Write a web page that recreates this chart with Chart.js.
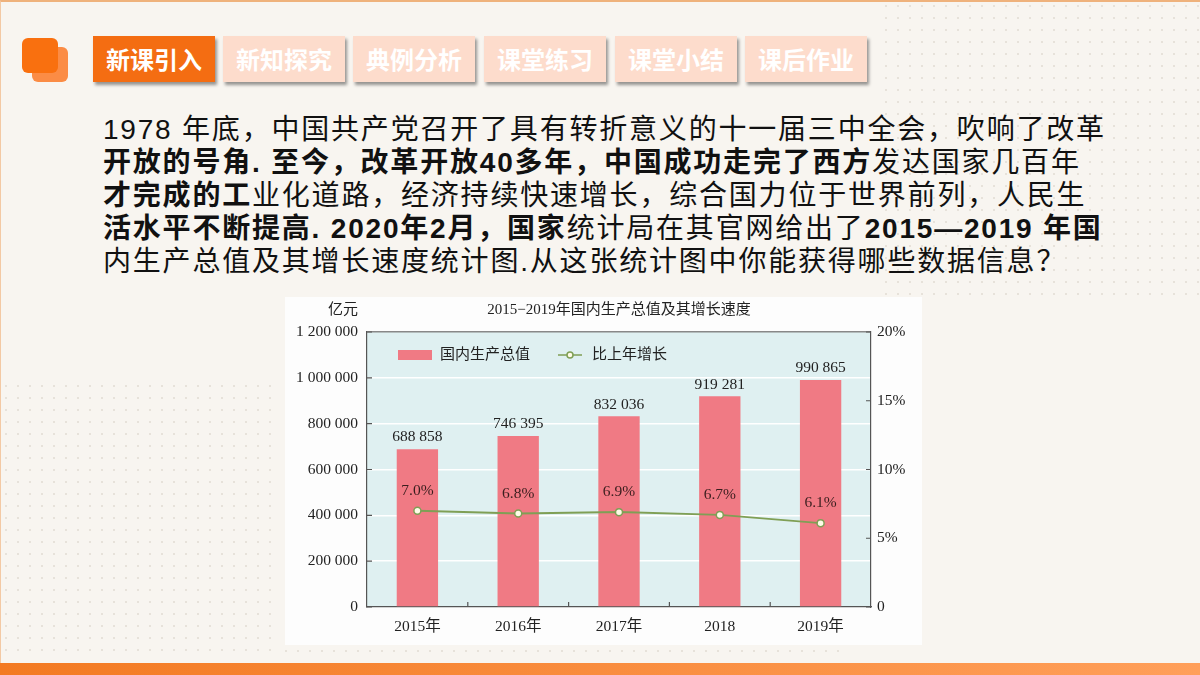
<!DOCTYPE html>
<html lang="zh-CN">
<head>
<meta charset="utf-8">
<title>2015-2019年国内生产总值及其增长速度</title>
<script src="https://cdn.jsdelivr.net/npm/chart.js@4.4.1/dist/chart.umd.min.js"></script>
<style>
  html, body { margin: 0; padding: 0; }
  body {
    width: 1200px; height: 675px; position: relative; overflow: hidden;
    background: #f8f5f0;
    font-family: "Liberation Sans", "Noto Sans CJK SC", sans-serif;
  }
  .frame { position: absolute; left: 0; top: 0; width: 1199px; height: 662px;
    border-top: 2px solid #efb27c; border-left: 1px solid #f3c9a4; }
  .dots { position: absolute; opacity: .55;
    background-image: radial-gradient(#d9d2c8 1px, transparent 1.3px);
    background-size: 12px 12px; }
  .bottom-bar { position: absolute; left: 0; top: 663px; width: 1200px; height: 12px;
    background: linear-gradient(to right, #f37a22, #ff9f5a); }
  .icon { position: absolute; width: 36px; height: 35px; border-radius: 6px; }
  .tab { position: absolute; top: 36px; width: 122px; height: 46px; line-height: 46px;
    text-align: center; font-size: 24px; font-weight: bold; color: #fff;
    font-family: "Noto Sans CJK SC", sans-serif;
    background: #fddccc; box-shadow: 2px 3px 3px rgba(0,0,0,.4); }
  .tab.on { background: #f46d12; }
  .text { position: absolute; left: 103px; top: 113px; font-size: 28px; line-height: 33px;
    letter-spacing: 1.8px; color: #111; white-space: nowrap; }
  .text b { font-weight: bold; }
  .chart-box { position: absolute; left: 285px; top: 297px; width: 637px; height: 348px;
    background: #fdfdfd; }
</style>
</head>
<body>
<div class="frame"></div>
<div class="dots" style="left:880px;top:0;width:320px;height:300px;"></div>
<div class="dots" style="left:0;top:380px;width:280px;height:280px;"></div>
<div class="dots" style="left:280px;top:645px;width:560px;height:16px;"></div>
<div class="bottom-bar"></div>

<div class="icon" style="left:32px;top:47px;background:#fb8c45;"></div>
<div class="icon" style="left:22px;top:38px;background:#f9700f;"></div>

<div class="tab on" style="left:93px;">新课引入</div>
<div class="tab" style="left:223px;">新知探究</div>
<div class="tab" style="left:353px;">典例分析</div>
<div class="tab" style="left:484px;">课堂练习</div>
<div class="tab" style="left:615px;">课堂小结</div>
<div class="tab" style="left:745px;">课后作业</div>

<div class="text">
  <div>1978 年底，中国共产党召开了具有转折意义的十一届三中全会，吹响了改革</div>
  <div><b>开放的号角. 至今，改革开放40多年，中国成功走完了西方</b>发达国家几百年</div>
  <div><b>才完成的工</b>业化道路，经济持续快速增长，综合国力位于世界前列，人民生</div>
  <div><b>活水平不断提高. 2020年2月，国家</b>统计局在其官网给出了<b>2015—2019 年国</b></div>
  <div>内生产总值及其增长速度统计图.从这张统计图中你能获得哪些数据信息？</div>
</div>

<div class="chart-box"><canvas id="gdpChart"></canvas></div>

<script>
// 数据
const years = ["2015年", "2016年", "2017年", "2018", "2019年"];
const gdp = [688858, 746395, 832036, 919281, 990865];      // 亿元
const growth = [7.0, 6.8, 6.9, 6.7, 6.1];                   // %
const chartTitle = "2015−2019年国内生产总值及其增长速度";
const unitLabel = "亿元";

const serif = "'Liberation Serif', 'Noto Sans CJK SC', serif";
const barColor = "#f07a84";
const lineColor = "#7f9f55";
const axisColor = "#555";

// 1 200 000 形式
function spaced(n) {
  return String(n).replace(/\B(?=(\d{3})+(?!\d))/g, " ");
}

// plot background, title, unit, legend, inward ticks, value labels
const decor = {
  id: "decor",
  beforeDraw(chart) {
    const { ctx, chartArea: a } = chart;
    ctx.save();
    ctx.fillStyle = "#dff0f1";
    ctx.fillRect(a.left, a.top, a.right - a.left, a.bottom - a.top);
    ctx.restore();
  },
  afterDatasetsDraw(chart) {
    const { ctx } = chart;
    ctx.save();
    ctx.font = "15.5px " + serif;
    ctx.textAlign = "center";
    // bar values
    ctx.fillStyle = "#222";
    ctx.textBaseline = "bottom";
    chart.getDatasetMeta(0).data.forEach((el, i) => {
      ctx.fillText(spaced(gdp[i]), el.x, el.y - 4);
    });
    // growth values
    ctx.fillStyle = "#3a1e1e";
    ctx.textBaseline = "middle";
    chart.getDatasetMeta(1).data.forEach((el, i) => {
      ctx.fillText(growth[i].toFixed(1) + "%", el.x, el.y - 20);
    });
    ctx.restore();
  },
  afterDraw(chart) {
    const { ctx, chartArea: a, scales } = chart;
    ctx.save();
    // inward ticks
    ctx.strokeStyle = axisColor;
    ctx.lineWidth = 1.2;
    ctx.beginPath();
    scales.y.ticks.forEach(t => {
      const py = scales.y.getPixelForValue(t.value);
      ctx.moveTo(a.left, py); ctx.lineTo(a.left + 5, py);
    });
    scales.y1.ticks.forEach(t => {
      const py = scales.y1.getPixelForValue(t.value);
      ctx.moveTo(a.right - 5, py); ctx.lineTo(a.right, py);
    });
    for (let i = 1; i < years.length; i++) {
      const px = (scales.x.getPixelForValue(i - 1) + scales.x.getPixelForValue(i)) / 2;
      ctx.moveTo(px, a.bottom); ctx.lineTo(px, a.bottom - 5);
    }
    ctx.stroke();

    // title and unit
    ctx.fillStyle = "#222";
    ctx.font = "15px " + serif;
    ctx.textBaseline = "middle";
    ctx.textAlign = "center";
    ctx.fillText(chartTitle, (a.left + a.right) / 2, 13);
    ctx.textAlign = "right";
    ctx.fillText(unitLabel, a.left - 9, 13);

    // legend
    const ly = a.top + 23;
    const ds = chart.data.datasets;
    ctx.textAlign = "left";
    ctx.fillStyle = ds[0].backgroundColor;
    ctx.fillRect(a.left + 31, ly - 5, 34, 10);
    ctx.fillStyle = "#222";
    ctx.fillText(ds[0].label, a.left + 73, ly);
    ctx.strokeStyle = ds[1].borderColor;
    ctx.lineWidth = 1.5;
    ctx.beginPath();
    ctx.moveTo(a.left + 191, ly); ctx.lineTo(a.left + 215, ly);
    ctx.stroke();
    ctx.beginPath();
    ctx.arc(a.left + 203, ly, 3, 0, Math.PI * 2);
    ctx.fillStyle = "#fffbe8";
    ctx.fill();
    ctx.stroke();
    ctx.fillStyle = "#222";
    ctx.fillText(ds[1].label, a.left + 225, ly);
    ctx.restore();
  }
};

const config = {
  type: "bar",
  data: {
    labels: years,
    datasets: [
      {
        label: "国内生产总值",
        data: gdp,
        backgroundColor: barColor,
        barPercentage: 0.41,
        categoryPercentage: 1,
        yAxisID: "y",
        order: 1
      },
      {
        type: "line",
        label: "比上年增长",
        data: growth,
        borderColor: lineColor,
        borderWidth: 2,
        pointRadius: 3.5,
        pointBorderWidth: 1.5,
        pointBackgroundColor: "#fffbe8",
        pointBorderColor: lineColor,
        tension: 0,
        yAxisID: "y1",
        order: 0
      }
    ]
  },
  options: {
    responsive: true,
    maintainAspectRatio: false,
    animation: false,
    layout: { padding: { top: 35, left: 0, right: 0, bottom: 0 } },
    plugins: {
      legend: { display: false },
      title: { display: false },
      tooltip: { enabled: false }
    },
    scales: {
      x: {
        grid: { display: true, drawOnChartArea: false, drawTicks: false },
        border: { color: axisColor, width: 1.2 },
        ticks: { color: "#222", font: { family: serif, size: 15.5 }, padding: 11 },
        afterFit(scale) { scale.height = 38; }
      },
      y: {
        position: "left",
        min: 0,
        max: 1200000,
        ticks: {
          stepSize: 200000,
          color: "#222",
          font: { family: serif, size: 15.5 },
          padding: 9,
          callback: v => spaced(v)
        },
        grid: {
          drawTicks: false,
          lineWidth: 1.5,
          color: c => (c.tick && c.tick.value === 1200000) ? "#888" : "#ffffff"
        },
        border: { color: axisColor, width: 1.2 },
        afterFit(scale) { scale.width = 82; }
      },
      y1: {
        position: "right",
        min: 0,
        max: 20,
        ticks: {
          stepSize: 5,
          color: "#222",
          font: { family: serif, size: 15.5 },
          padding: 6,
          callback: v => v === 0 ? "0" : v + "%"
        },
        grid: { display: true, drawOnChartArea: false, drawTicks: false },
        border: { color: axisColor, width: 1.2 },
        afterFit(scale) { scale.width = 51; }
      }
    }
  },
  plugins: [decor]
};

new Chart(document.getElementById("gdpChart"), config);
</script>
</body>
</html>
